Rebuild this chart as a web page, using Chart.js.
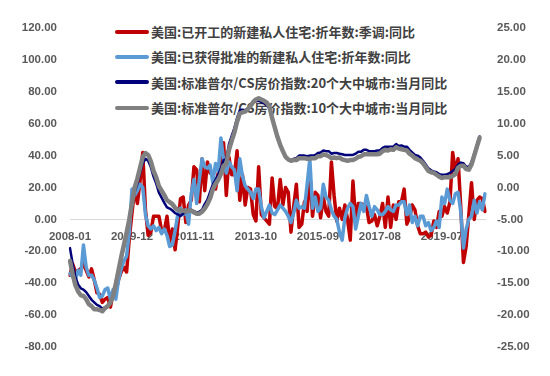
<!DOCTYPE html>
<html>
<head>
<meta charset="utf-8">
<script src="https://cdn.jsdelivr.net/npm/chart.js@4.4.1/dist/chart.umd.min.js"></script>
<style>
  html, body { margin: 0; padding: 0; background: #ffffff; }
  #wrap { position: relative; width: 550px; height: 376px; }
  #legend {
    position: absolute; left: 115px; top: 19px; z-index: 0;
    font: bold 13px "Noto Sans CJK SC", sans-serif; color: #404040;
  }
  #legend .row { height: 25.3px; display: flex; align-items: center; white-space: nowrap; }
  #legend .sw { width: 34px; height: 4px; margin-right: 2px; border-radius: 2px; }
  #chart { position: absolute; left: 0; top: 0; z-index: 1; }
</style>
</head>
<body>
<div id="wrap">
  <div id="legend"></div>
  <canvas id="chart" width="550" height="376"></canvas>
</div>
<script>
// Monthly categories, 2008-01 .. 2020-11
const startYear = 2008, monthCount = 155;
const months = [];
for (let i = 0; i < monthCount; i++) {
  const y = startYear + Math.floor(i / 12), m = (i % 12) + 1;
  months.push(y + '-' + String(m).padStart(2, '0'));
}
const tickLabels = ['2008-01', '2009-12', '2011-11', '2013-10', '2015-09', '2017-08', '2019-07'];

const seriesNames = [
  '美国:已开工的新建私人住宅:折年数:季调:同比',
  '美国:已获得批准的新建私人住宅:折年数:同比',
  '美国:标准普尔/CS房价指数:20个大中城市:当月同比',
  '美国:标准普尔/CS房价指数:10个大中城市:当月同比'
];

// Housing starts, YoY % (left axis)
const housingStarts = [
  -35, -28, -33, -32, -31, -28, -32, -36, -31, -38, -46, -47,
  -52, -50, -49, -55, -46, -45, -38, -33, -30, -33, -12, 4,
  19, 10, 24, 42, 6, -10, -8, 2, 2, 2, -7, -7,
  2, -14, -6, -19, -4, 13, 14, -2, 9, 12, 33, 31,
  11, 38, 18, 36, 29, 29, 19, 29, 30, 48, 15, 39,
  28, 28, 43, 12, 28, 9, 20, 19, 3, -1, 33, 3,
  1, -1, -3, 26, 8, 7, 25, 9, 20, 17, -8, 8,
  22, -5, -3, 11, 5, 30, 2, 17, 15, 1, 14, 5,
  2, 36, 15, -1, 7, 0, 9, 0, -13, 24, -1, 10,
  10, 9, 8, -2, -1, 3, -4, 2, 10, -5, 14, -5,
  9, 0, 11, 11, 19, -3, 1, 9, 6, -4, -9, -9,
  -8, -11, -10, -1, -5, 5, 2, 8, 4, 11, 42, 30,
  38, 8, -27, -17, 3, 23, 0, 12, 14, 13, 5
];

// Building permits, YoY % (left axis)
const buildingPermits = [
  -34, -36, -38, -32, -35, -16, -30, -35, -35, -38, -43, -49,
  -48, -44, -43, -50, -44, -50, -38, -31, -26, -23, -8, 19,
  15, 18, 22, 20, 3, -4, -6, -4, -7, -5, -9, -6,
  -10, -17, -16, -7, 3, 7, 3, 6, -3, 16, 25, 10,
  25, 38, 33, 32, 34, 23, 35, 30, 51, 37, 29, 36,
  33, 31, 18, 38, 27, 21, 19, 17, 13, 19, 19, 8,
  1, 5, 9, 4, 3, 6, 9, 7, 5, 2, -2, 4,
  12, 7, 8, 7, 22, 38, 7, 14, 5, 7, 22, 14,
  12, 6, 2, 0, -8, -13, 1, 7, 10, 8, -6, 2,
  10, 5, 15, 8, 2, 8, 6, 3, 3, 5, 8, 6,
  5, 9, 9, 11, 11, 3, 9, -2, 2, -4, 2, 2,
  -4, -2, -7, -5, -1, -5, 14, 10, 19, 12, 10, 16,
  17, 5, -18, -6, 0, 2, 12, 4, 11, 6, 16
];

// S&P/Case-Shiller 20-city, YoY % (right axis)
const cs20 = [
  -9.5, -12.0, -14.0, -15.2, -15.8, -16.0, -16.4, -17.0, -17.6, -18.0, -18.4, -18.6,
  -19.0, -18.8, -18.7, -18.1, -17.1, -15.4, -13.3, -11.3, -9.4, -7.3, -5.3, -3.1,
  -0.7, 0.6, 2.3, 3.8, 4.5, 4.2, 3.2, 1.7, 0.6, -0.8, -1.6, -2.4,
  -3.1, -3.3, -3.6, -4.0, -4.2, -4.5, -4.1, -3.9, -3.7, -3.5, -3.7, -3.9,
  -3.8, -3.5, -2.6, -1.9, -0.7, 0.5, 1.2, 2.0, 3.0, 4.3, 4.5, 6.8,
  8.1, 9.3, 10.9, 12.1, 12.2, 12.1, 12.4, 12.8, 13.3, 13.5, 13.6, 13.4,
  13.2, 12.9, 12.4, 10.8, 9.3, 8.1, 6.7, 5.6, 4.9, 4.5, 4.3, 4.5,
  4.6, 5.0, 5.0, 5.0, 4.9, 5.0, 5.0, 5.1, 5.4, 5.5, 5.8, 5.7,
  5.7, 5.3, 5.4, 5.4, 5.3, 5.2, 5.1, 5.1, 5.1, 5.1, 5.3, 5.6,
  5.6, 5.9, 5.9, 5.7, 5.7, 5.7, 5.8, 5.8, 6.2, 6.4, 6.4, 6.4,
  6.4, 6.8, 6.5, 6.6, 6.4, 6.4, 5.9, 5.5, 5.1, 5.0, 4.7, 4.2,
  3.6, 3.0, 2.7, 2.5, 2.4, 2.1, 2.0, 2.0, 2.1, 2.3, 2.6, 2.9,
  3.6, 3.9, 3.8, 3.3, 3.2, 4.0, 5.3, 6.7, 8.0
];

// S&P/Case-Shiller 10-city, YoY % (right axis)
const cs10 = [
  -11.5, -13.6, -15.3, -16.3, -16.9, -17.0, -17.5, -18.3, -18.6, -19.1, -19.1, -19.2,
  -19.4, -18.9, -18.6, -18.0, -17.0, -15.1, -13.0, -10.9, -9.0, -7.1, -5.0, -2.5,
  0.0, 1.4, 3.1, 4.8, 5.4, 5.1, 4.1, 2.6, 1.6, 0.2, -0.5, -1.2,
  -2.0, -2.3, -2.6, -3.2, -3.5, -3.6, -3.6, -3.8, -3.6, -3.6, -3.9, -4.1,
  -4.1, -3.8, -3.3, -2.6, -1.7, -0.3, 0.6, 1.2, 2.1, 3.4, 3.7, 5.9,
  7.3, 8.6, 10.3, 11.6, 11.8, 11.9, 12.3, 12.8, 13.4, 13.8, 14.0, 13.8,
  13.6, 13.3, 12.7, 10.9, 9.4, 7.9, 6.7, 5.7, 4.8, 4.4, 4.2, 4.3,
  4.3, 4.6, 4.6, 4.6, 4.5, 4.5, 4.6, 4.6, 4.9, 4.9, 5.2, 5.1,
  4.9, 4.6, 4.7, 4.6, 4.7, 4.4, 4.3, 4.2, 4.3, 4.3, 4.5, 4.8,
  4.9, 5.2, 5.2, 5.2, 5.2, 5.2, 5.2, 5.3, 5.7, 5.9, 5.8, 6.0,
  5.9, 6.3, 6.1, 6.0, 5.9, 5.8, 5.3, 5.0, 4.6, 4.4, 4.2, 3.8,
  3.2, 2.6, 2.4, 2.3, 2.0, 1.7, 1.5, 1.6, 1.6, 1.6, 1.8, 2.1,
  3.1, 3.4, 3.4, 2.9, 2.8, 3.6, 5.0, 6.4, 7.8
];

const colors = ['#C00000', '#5B9BD5', '#00007A', '#808080'];
const widths = [3.5, 3.5, 2.5, 4.5];

// HTML legend, one row per series
const legendEl = document.getElementById('legend');
seriesNames.forEach((name, i) => {
  const row = document.createElement('div');
  row.className = 'row';
  const sw = document.createElement('span');
  sw.className = 'sw';
  sw.style.background = colors[i];
  const txt = document.createElement('span');
  txt.textContent = name;
  row.appendChild(sw);
  row.appendChild(txt);
  legendEl.appendChild(row);
});

const tickFont = { family: '"Liberation Sans", Arial, sans-serif', weight: 'bold', size: 11.5 };
const tickColor = '#595959';

new Chart(document.getElementById('chart'), {
  type: 'line',
  data: {
    labels: months,
    datasets: [
      { label: seriesNames[0], data: housingStarts, yAxisID: 'y', borderColor: colors[0], borderWidth: widths[0], order: 3 },
      { label: seriesNames[1], data: buildingPermits, yAxisID: 'y', borderColor: colors[1], borderWidth: widths[1], order: 2 },
      { label: seriesNames[2], data: cs20, yAxisID: 'y2', borderColor: colors[2], borderWidth: widths[2], order: 1 },
      { label: seriesNames[3], data: cs10, yAxisID: 'y2', borderColor: colors[3], borderWidth: widths[3], order: 0 }
    ]
  },
  options: {
    responsive: false,
    animation: false,
    layout: { padding: { top: 28, bottom: 29, left: 0, right: 0 } },
    plugins: { legend: { display: false }, tooltip: { enabled: false } },
    elements: {
      point: { radius: 0 },
      line: { tension: 0, fill: false, borderJoinStyle: 'round', borderCapStyle: 'round' }
    },
    scales: {
      x: {
        type: 'category',
        position: { y: 0 },
        offset: false,
        grid: { display: false, drawTicks: false },
        border: { display: true, color: '#d9d9d9', width: 1 },
        ticks: {
          autoSkip: false, maxRotation: 0, minRotation: 0, padding: 11,
          font: tickFont, color: tickColor,
          callback: (v, i) => tickLabels.includes(months[i]) ? months[i] : ''
        }
      },
      y: {
        position: 'left',
        min: -80, max: 120,
        afterFit: s => { s.width = 70; },
        grid: { display: false, drawTicks: false },
        border: { display: false },
        ticks: { stepSize: 20, padding: 13, font: tickFont, color: tickColor, callback: v => v.toFixed(2) }
      },
      y2: {
        position: 'right',
        min: -25, max: 25,
        afterFit: s => { s.width = 65; },
        grid: { display: false, drawTicks: false },
        border: { display: false },
        ticks: { stepSize: 5, padding: 12, font: tickFont, color: tickColor, callback: v => v.toFixed(2) }
      }
    }
  }
});
</script>
</body>
</html>
